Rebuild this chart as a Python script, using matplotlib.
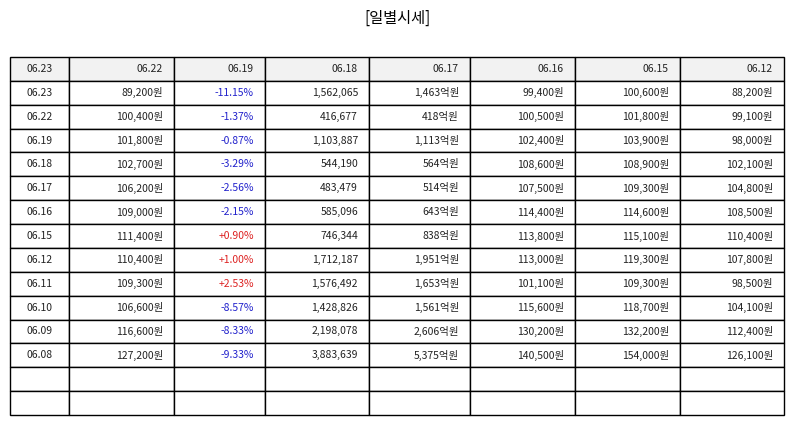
import matplotlib.pyplot as plt

plt.rcParams['font.family'] = ['Noto Sans CJK KR', 'DejaVu Sans']


if __name__ == '__main__':


    # header row and body rows of the daily price table
    header = ['06.23', '06.22', '06.19', '06.18', '06.17', '06.16', '06.15', '06.12']
    rows = [
        ['06.23', '89,200원', '-11.15%', '1,562,065', '1,463억원', '99,400원', '100,600원', '88,200원'],
        ['06.22', '100,400원', '-1.37%', '416,677', '418억원', '100,500원', '101,800원', '99,100원'],
        ['06.19', '101,800원', '-0.87%', '1,103,887', '1,113억원', '102,400원', '103,900원', '98,000원'],
        ['06.18', '102,700원', '-3.29%', '544,190', '564억원', '108,600원', '108,900원', '102,100원'],
        ['06.17', '106,200원', '-2.56%', '483,479', '514억원', '107,500원', '109,300원', '104,800원'],
        ['06.16', '109,000원', '-2.15%', '585,096', '643억원', '114,400원', '114,600원', '108,500원'],
        ['06.15', '111,400원', '+0.90%', '746,344', '838억원', '113,800원', '115,100원', '110,400원'],
        ['06.12', '110,400원', '+1.00%', '1,712,187', '1,951억원', '113,000원', '119,300원', '107,800원'],
        ['06.11', '109,300원', '+2.53%', '1,576,492', '1,653억원', '101,100원', '109,300원', '98,500원'],
        ['06.10', '106,600원', '-8.57%', '1,428,826', '1,561억원', '115,600원', '118,700원', '104,100원'],
        ['06.09', '116,600원', '-8.33%', '2,198,078', '2,606억원', '130,200원', '132,200원', '112,400원'],
        ['06.08', '127,200원', '-9.33%', '3,883,639', '5,375억원', '140,500원', '154,000원', '126,100원'],
        [''] * 8,
        [''] * 8,
    ]
    col_widths = [59, 105, 91, 104, 101, 105, 105, 104]

    fig = plt.figure(figsize=(7.94, 4.25), dpi=100)
    ax = fig.add_axes([0, 0, 1, 1])
    ax.axis('off')

    # set the title
    fig.text(0.5, 1 - 18 / 425, '[일별시세]', ha='center', va='center', fontsize=11)

    total = sum(col_widths)
    table = ax.table(cellText=[header] + rows,
                     colWidths=[w / total for w in col_widths],
                     bbox=[10 / 794, 10 / 425, 774 / 794, 358 / 425])
    table.auto_set_font_size(False)

    for (r, c), cell in table.get_celld().items():
        cell.set_linewidth(1.0)
        cell.set_edgecolor('black')
        txt = cell.get_text()
        txt.set_fontsize(7.5)
        txt.set_color('#222222')
        if c == 0:
            txt.set_ha('center')
        else:
            txt.set_ha('right')
            cell.PAD = 11 / col_widths[c]  # about 11 px right padding
        if r == 0:
            cell.set_facecolor('#f2f2f2')
        if r > 0 and c == 2:
            val = txt.get_text()
            if val.startswith('-'):
                txt.set_color('#2222cc')
            elif val.startswith('+'):
                txt.set_color('#dd2222')

    # save the figure
    plt.savefig('out.png', dpi=100)

    plt.clf()
